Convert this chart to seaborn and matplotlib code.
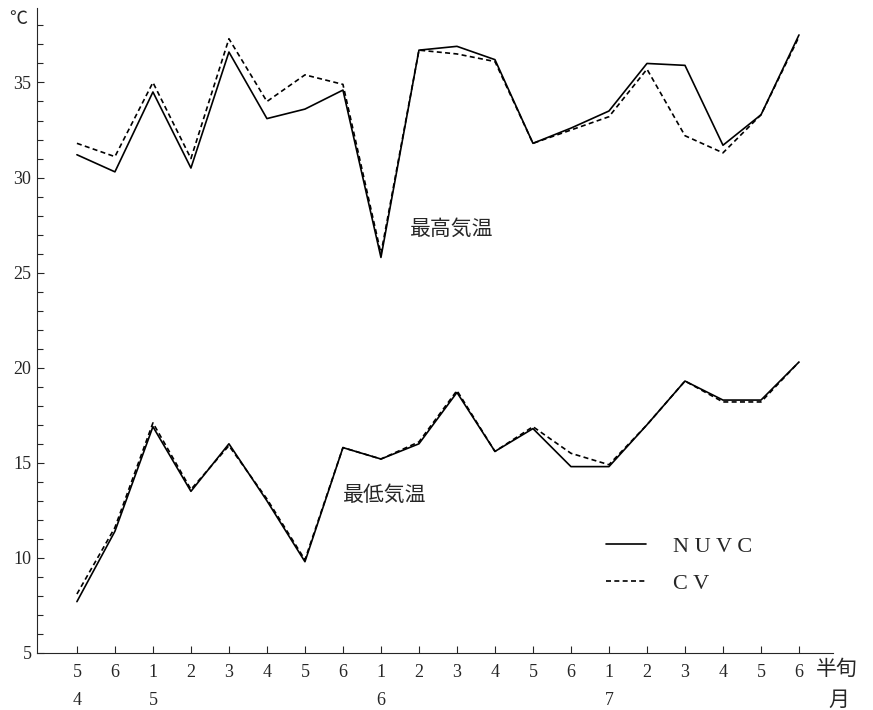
import matplotlib
matplotlib.use("Agg")
import matplotlib.pyplot as plt
import seaborn as sns
import pandas as pd
from matplotlib.ticker import MultipleLocator

# 半旬 positions (Apr 5 .. Jul 6)
pentad_labels = ["5", "6", "1", "2", "3", "4", "5", "6", "1", "2",
                 "3", "4", "5", "6", "1", "2", "3", "4", "5", "6"]
month_labels = {0: "4", 2: "5", 8: "6", 14: "7"}
idx = list(range(len(pentad_labels)))

max_nuvc = [31.2, 30.3, 34.5, 30.5, 36.6, 33.1, 33.6, 34.6, 25.8, 36.7,
            36.9, 36.2, 31.8, 32.6, 33.5, 36.0, 35.9, 31.7, 33.3, 37.5]
max_cv = [31.8, 31.1, 35.0, 31.0, 37.3, 34.0, 35.4, 34.9, 26.0, 36.7,
          36.5, 36.1, 31.8, 32.5, 33.2, 35.7, 32.2, 31.3, 33.3, 37.4]
min_nuvc = [7.7, 11.4, 16.9, 13.5, 16.0, 13.0, 9.8, 15.8, 15.2, 16.0,
            18.7, 15.6, 16.8, 14.8, 14.8, 17.0, 19.3, 18.3, 18.3, 20.3]
min_cv = [8.1, 11.6, 17.1, 13.6, 15.9, 13.1, 9.9, 15.8, 15.2, 16.1,
          18.8, 15.6, 16.9, 15.5, 14.9, 17.0, 19.3, 18.2, 18.2, 20.3]

sns.set_style("ticks")
plt.rcParams['font.family'] = ['Liberation Serif', 'Noto Sans CJK JP', 'DejaVu Sans']

fig = plt.figure(figsize=(8.73, 7.10), dpi=100)
ax = fig.add_axes([0.0424, 0.0803, 0.912, 0.908])

df = pd.DataFrame({"x": idx, "max_nuvc": max_nuvc, "max_cv": max_cv,
                   "min_nuvc": min_nuvc, "min_cv": min_cv})

sns.lineplot(data=df, x="x", y="max_nuvc", color="black", lw=1.2, ax=ax, label="NUVC")
sns.lineplot(data=df, x="x", y="max_cv", color="black", lw=1.2, ls=(0, (3, 2)), ax=ax, label="CV")
sns.lineplot(data=df, x="x", y="min_nuvc", color="black", lw=1.2, ax=ax)
sns.lineplot(data=df, x="x", y="min_cv", color="black", lw=1.2, ls=(0, (3, 2)), ax=ax)

ax.set_xlim(-1.05, 19.9)
ax.set_ylim(5, 38.9)
sns.despine(ax=ax)
ax.set_xlabel("")
ax.set_ylabel("")

ax.set_xticks(idx)
ax.set_xticklabels(pentad_labels, fontsize=13)
ax.yaxis.set_major_locator(MultipleLocator(5))
ax.yaxis.set_minor_locator(MultipleLocator(1))
ax.set_yticks([5, 10, 15, 20, 25, 30, 35])
ax.tick_params(axis="both", direction="in", length=5, width=0.8, labelsize=13, pad=8)
ax.tick_params(axis="y", which="minor", direction="in", length=4, width=0.8)
ax.tick_params(axis="y", pad=4)

tr = ax.get_xaxis_transform()
for i, m in month_labels.items():
    ax.text(i, -0.073, m, transform=tr, ha="center", va="center", fontsize=13)
ax.text(20.0, -0.024, "半旬", transform=tr, ha="center", va="center",
        fontsize=15, family=["Noto Sans CJK JP"], clip_on=False)
ax.text(20.05, -0.073, "月", transform=tr, ha="center", va="center",
        fontsize=15, family=["Noto Sans CJK JP"], clip_on=False)
ax.text(-1.55, 38.35, "℃", ha="center", va="center", fontsize=13,
        family=["Noto Sans CJK JP"], clip_on=False)

ax.text(8.75, 27.3, "最高気温", fontsize=15, family=["Noto Sans CJK JP"], va="center")
ax.text(7.0, 13.3, "最低気温", fontsize=15, family=["Noto Sans CJK JP"], va="center")

leg = ax.legend(loc="upper left", bbox_to_anchor=(0.69, 0.212), frameon=False,
                handlelength=1.8, handletextpad=1.2, labelspacing=0.75, fontsize=16)
for t in leg.get_texts():
    t.set_text(" ".join(t.get_text()))

fig.savefig("out.png", dpi=100)
